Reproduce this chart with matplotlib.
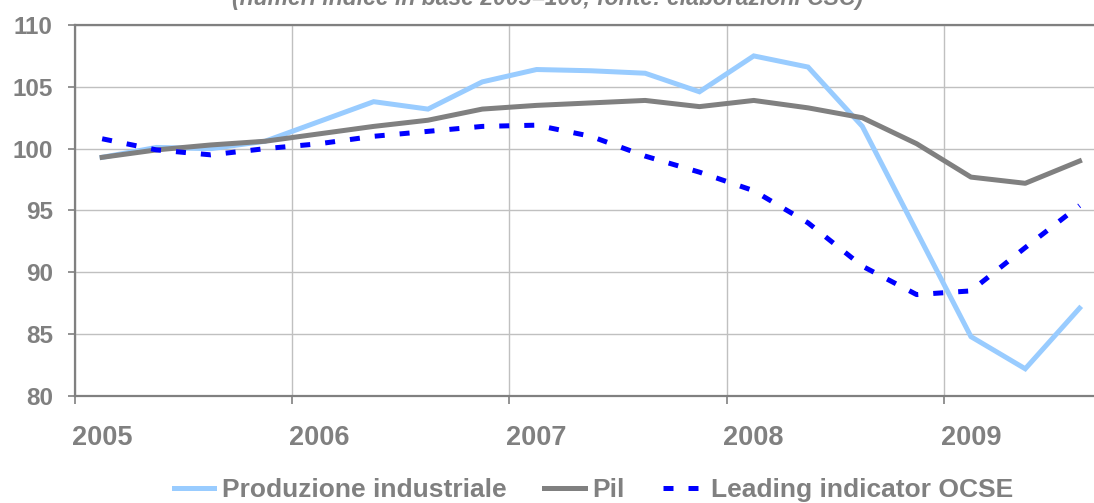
import numpy as np
import matplotlib.pyplot as plt

# quarterly data, 2005Q1 - 2009Q3
years = [2005, 2006, 2007, 2008, 2009]
n_quarters = 19
produzione = [99.3, 100.1, 100.0, 100.6, 102.2, 103.8, 103.2, 105.4, 106.4, 106.3,
              106.1, 104.6, 107.5, 106.6, 101.8, 93.3, 84.8, 82.2, 87.1]
pil = [99.3, 99.9, 100.3, 100.6, 101.2, 101.8, 102.3, 103.2, 103.5, 103.7,
       103.9, 103.4, 103.9, 103.3, 102.5, 100.4, 97.7, 97.2, 99.0]
leading = [100.8, 99.9, 99.5, 100.0, 100.4, 101.0, 101.4, 101.8, 101.9, 101.0,
           99.4, 98.1, 96.6, 94.0, 90.5, 88.2, 88.5, 92.0, 95.4]

grey = "#808080"
plt.rcParams['font.family'] = ['Liberation Sans', 'DejaVu Sans']
plt.rcParams['font.weight'] = 'bold'

x = np.array([2005 + (i + 0.5) / 4 for i in range(n_quarters)])

fig = plt.figure(figsize=(10.94, 5.03), dpi=100)
ax = fig.add_axes([75 / 1094, 107 / 503, 1031.7 / 1094, 371 / 503])

ax.plot(x, produzione, color="#99CCFF", lw=3.6, label="Produzione industriale",
        solid_joinstyle="miter", zorder=3)
ax.plot(x, pil, color=grey, lw=3.6, label="Pil", zorder=3)
ax.plot(x, leading, color="#0000FF", lw=3.6, linestyle=(0, (2, 3)),
        label="Leading indicator OCSE", zorder=3)

ax.set_xlim(2005, 2009.75)
ax.set_ylim(80, 110)
ax.set_yticks(range(80, 111, 5))
ax.set_xticks(years)
ax.set_xticklabels([])
ax.set_xticks([yr + 0.125 for yr in years], minor=True)
ax.set_xticklabels([str(yr) for yr in years], minor=True)

ax.grid(True, which="major", color="#C0C0C0", lw=1)
ax.set_axisbelow(True)

for side in ["left", "bottom", "top"]:
    ax.spines[side].set_color(grey)
    ax.spines[side].set_linewidth(1.6)
ax.spines["right"].set_visible(False)

ax.tick_params(axis="y", which="major", direction="out", length=5, width=1.2,
               color=grey, labelcolor=grey, labelsize=17.5, pad=11)
ax.tick_params(axis="x", which="major", direction="out", length=6, width=1.2,
               color=grey)
ax.tick_params(axis="x", which="minor", length=0, labelcolor=grey,
               labelsize=19.5, pad=21)

fig.text(0.5, 1 - 5 / 503, "(numeri indice in base 2005=100; fonte: elaborazioni CSC)",
         ha="center", va="baseline", color=grey, fontsize=16.5, style="italic",
         fontweight="bold")

leg = fig.legend(loc="center", bbox_to_anchor=(0.5425, 13 / 503), ncol=3,
                 frameon=False, fontsize=19, handlelength=1.55,
                 handletextpad=0.27, columnspacing=1.45)
for t in leg.get_texts():
    t.set_color(grey)

fig.savefig("out.png", dpi=100)
